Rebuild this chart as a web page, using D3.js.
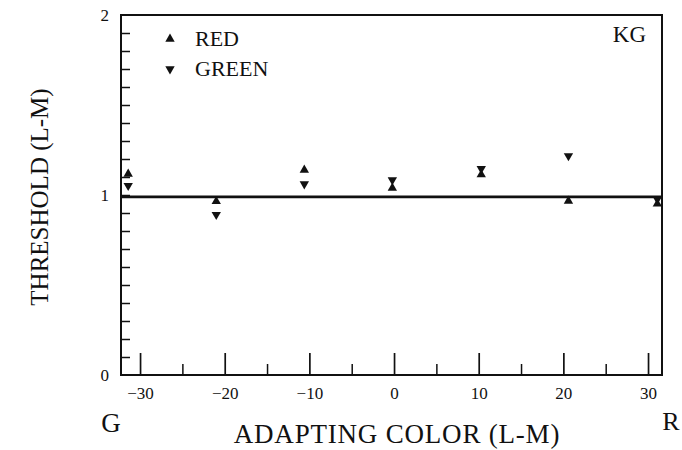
<!DOCTYPE html>
<html>
<head>
<meta charset="utf-8">
<script src="https://cdn.jsdelivr.net/npm/d3@7"></script>
<style>
  html, body { margin: 0; padding: 0; background: #fff; }
  svg { display: block; }
</style>
</head>
<body>
<svg id="chart" width="682" height="450"></svg>
<script>
// ---- data ----
const adaptingColor = [-31.4, -21, -10.6, -0.2, 10.3, 20.6, 31.1];
const redThreshold   = [1.117, 0.965, 1.139, 1.039, 1.113, 0.967, 0.951];
const greenThreshold = [1.052, 0.891, 1.061, 1.083, 1.146, 1.217, 0.976];
const referenceLevel = 0.99;
const xMajorTicks = [-30, -20, -10, 0, 10, 20, 30];
const xMinorTicks = [-25, -15, -5, 5, 15, 25];
const yLabelTicks = [0, 1, 2];
const legendLabels = ["RED", "GREEN"];

// ---- layout ----
const FONT = "'Liberation Serif', 'Times New Roman', Tinos, Times, 'DejaVu Serif', serif";
const svg = d3.select("#chart").attr("font-family", FONT);
const L = 121, R = 662, T = 15, B = 375;
const x = d3.scaleLinear().domain([-32.25, 31.65]).range([L, R]);
const y = d3.scaleLinear().domain([0, 2]).range([B, T]);
const ink = "#111";

// frame
svg.append("rect").attr("x", L).attr("y", T).attr("width", R - L).attr("height", B - T)
  .attr("fill", "none").attr("stroke", ink).attr("stroke-width", 2);

// x axis (ticks inside)
const xAxis = svg.append("g").attr("transform", `translate(0,${B})`)
  .call(d3.axisBottom(x).tickValues(xMajorTicks).tickSize(-22).tickPadding(12).tickFormat(d3.format("d")));
xAxis.attr("font-family", FONT);
xAxis.select(".domain").remove();
xAxis.selectAll("line").attr("stroke", ink).attr("stroke-width", 1.7);
xAxis.selectAll("text").attr("font-size", 17).attr("fill", ink).style("font-family", FONT);
const xMinor = svg.append("g").attr("transform", `translate(0,${B})`)
  .call(d3.axisBottom(x).tickValues(xMinorTicks).tickSize(-11).tickFormat(""));
xMinor.select(".domain").remove();
xMinor.selectAll("line").attr("stroke", ink).attr("stroke-width", 1.5);

// y axis (ticks inside every 0.1)
const yMinorVals = d3.range(1, 20).map(i => i / 10);
const yMinor = svg.append("g").attr("transform", `translate(${L},0)`)
  .call(d3.axisLeft(y).tickValues(yMinorVals).tickSize(-9).tickFormat(""));
yMinor.select(".domain").remove();
yMinor.selectAll("line").attr("stroke", ink).attr("stroke-width", 1.5);
const yLab = svg.append("g").attr("transform", `translate(${L},0)`)
  .call(d3.axisLeft(y).tickValues(yLabelTicks).tickSize(0).tickPadding(12).tickFormat(d3.format("d")));
yLab.attr("font-family", FONT);
yLab.select(".domain").remove();
yLab.selectAll("text").attr("font-size", 17).attr("fill", ink).style("font-family", FONT);

// reference line
svg.append("line")
  .attr("x1", L).attr("x2", R)
  .attr("y1", y(referenceLevel)).attr("y2", y(referenceLevel))
  .attr("stroke", ink).attr("stroke-width", 2.8);

// markers
const up = d3.symbol(d3.symbolTriangle).size(38)();
const pts = svg.append("g");
pts.selectAll("path.red").data(adaptingColor.map((c, i) => [c, redThreshold[i]]))
  .join("path").attr("class", "red").attr("d", up).attr("fill", ink)
  .attr("transform", d => `translate(${x(d[0])},${y(d[1])})`);
pts.selectAll("path.green").data(adaptingColor.map((c, i) => [c, greenThreshold[i]]))
  .join("path").attr("class", "green").attr("d", up).attr("fill", ink)
  .attr("transform", d => `translate(${x(d[0])},${y(d[1])}) rotate(180)`);

// legend
const leg = svg.append("g");
legendLabels.forEach((lab, i) => {
  const ly = 39 + i * 30;
  leg.append("path").attr("d", up).attr("fill", ink)
    .attr("transform", `translate(170,${ly})` + (i === 1 ? " rotate(180)" : ""));
  leg.append("text").attr("x", 195).attr("y", ly + 7).attr("font-size", 22).attr("fill", ink).text(lab);
});

// panel label
svg.append("text").attr("x", 646).attr("y", 42).attr("text-anchor", "end").attr("font-size", 23).attr("fill", ink).text("KG");

// axis titles
svg.append("text").attr("x", 397).attr("y", 443).attr("text-anchor", "middle").attr("font-size", 27)
  .attr("letter-spacing", 0.8).attr("fill", ink).text("ADAPTING COLOR (L-M)");
svg.append("text").attr("x", 111).attr("y", 432).attr("text-anchor", "middle").attr("font-size", 27).attr("fill", ink).text("G");
svg.append("text").attr("x", 671).attr("y", 430).attr("text-anchor", "middle").attr("font-size", 26).attr("fill", ink).text("R");
svg.append("text").attr("transform", "translate(48,197) rotate(-90)").attr("text-anchor", "middle")
  .attr("font-size", 25).attr("fill", ink).text("THRESHOLD (L-M)");
</script>
</body>
</html>
